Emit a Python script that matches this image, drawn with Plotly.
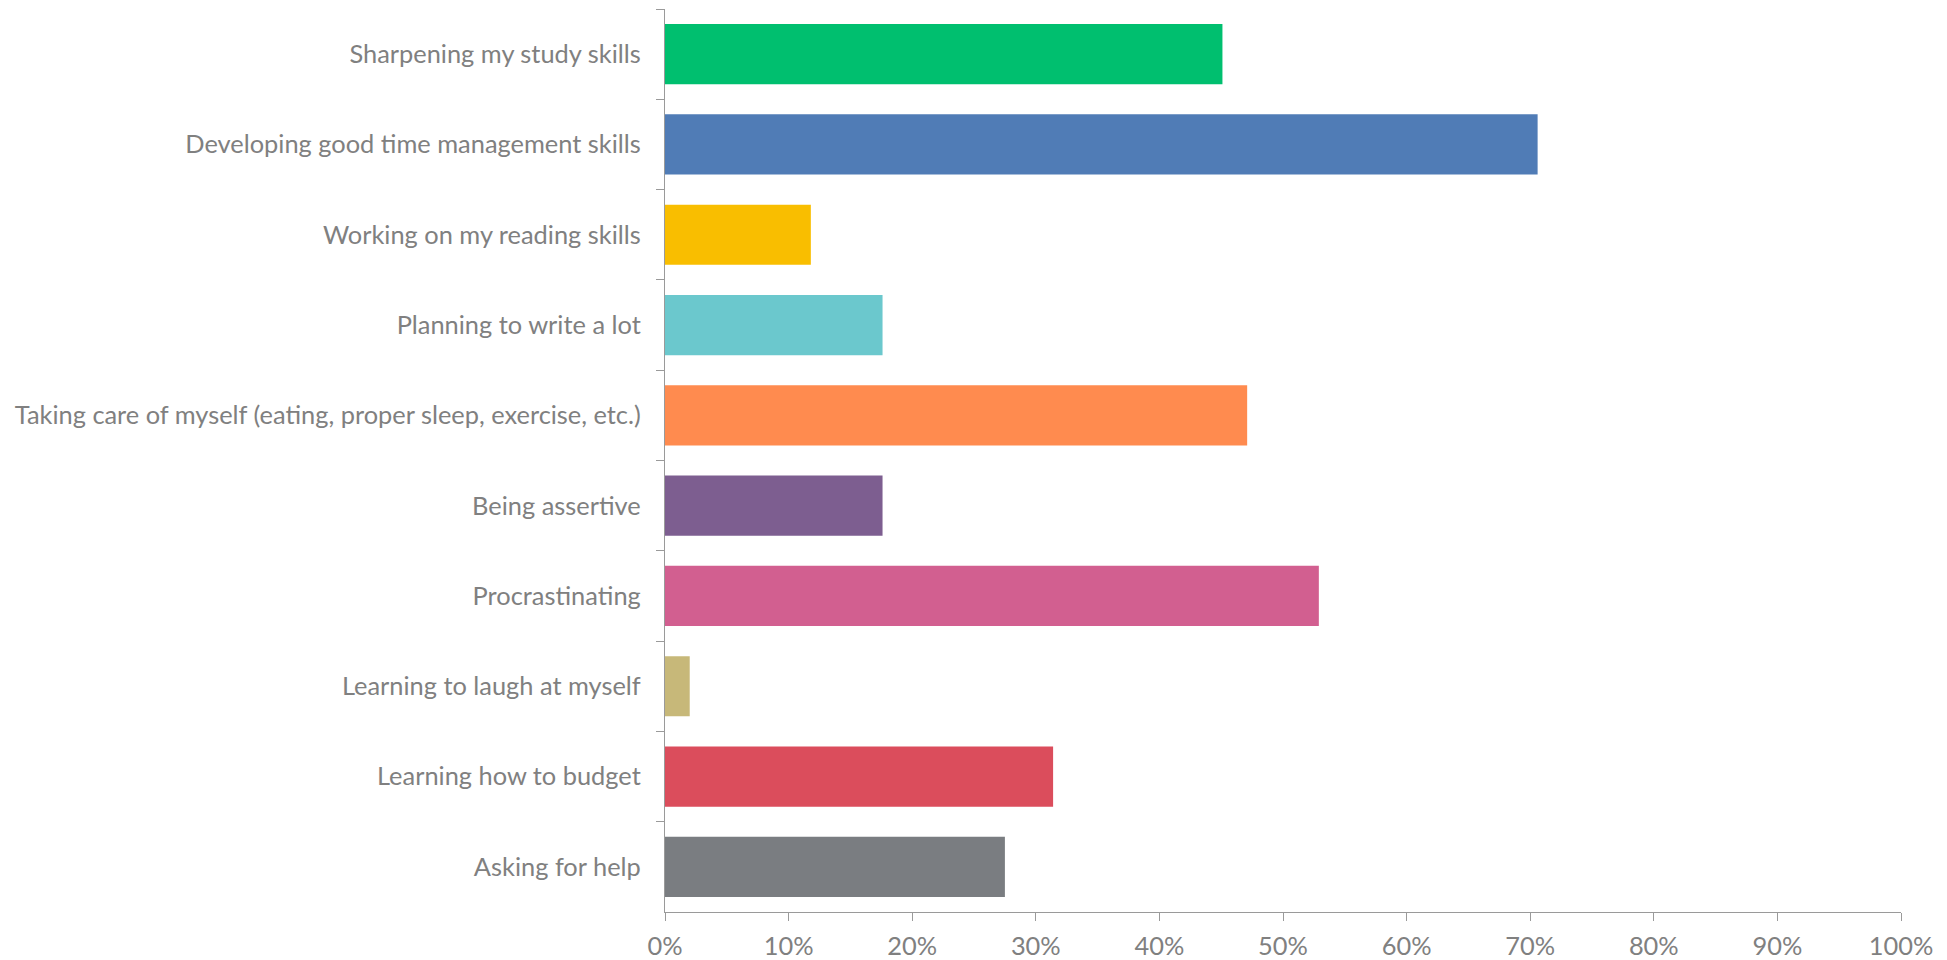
import plotly.graph_objects as go

categories = [
    "Sharpening my study skills",
    "Developing good time management skills",
    "Working on my reading skills",
    "Planning to write a lot",
    "Taking care of myself (eating, proper sleep, exercise, etc.)",
    "Being assertive",
    "Procrastinating",
    "Learning to laugh at myself",
    "Learning how to budget",
    "Asking for help",
]
values = [0.451, 0.706, 0.118, 0.176, 0.471, 0.176, 0.529, 0.020, 0.314, 0.275]
colors = ["#00BF6F", "#507CB6", "#F9BE00", "#6BC8CD", "#FF8B4F",
          "#7D5E90", "#D25F90", "#C7B879", "#DB4D5C", "#7A7D81"]
x_ticks = [i / 10 for i in range(11)]
x_tick_labels = [f"{i * 10}%" for i in range(11)]

FONT = "Lato"
TEXT = "#808080"
AXIS = "#9A9A9A"
FS = 25.4

fig = go.Figure(
    go.Bar(
        x=values,
        y=categories,
        orientation="h",
        marker=dict(color=colors, line=dict(width=0)),
        hoverinfo="x+y",
    )
)

fig.update_layout(
    width=1947,
    height=960,
    margin=dict(l=657, r=54, t=1, b=56),
    plot_bgcolor="white",
    paper_bgcolor="white",
    bargap=0.333,
    showlegend=False,
    font=dict(family=FONT, size=FS, color=TEXT),
)

fig.update_xaxes(
    range=[0, 1],
    tickvals=x_ticks,
    ticktext=x_tick_labels,
    showgrid=False,
    zeroline=False,
    showline=True,
    linecolor=AXIS,
    linewidth=1.3,
    ticks="outside",
    ticklen=8,
    tickwidth=1.3,
    tickcolor=AXIS,
    ticklabelstandoff=3,
    tickfont=dict(family=FONT, size=FS, color=TEXT),
)

fig.update_yaxes(
    categoryorder="array",
    categoryarray=categories,
    autorange="reversed",
    showgrid=False,
    zeroline=False,
    showline=True,
    linecolor=AXIS,
    linewidth=1.3,
    ticks="outside",
    tickson="boundaries",
    ticklen=8,
    tickwidth=1.3,
    tickcolor=AXIS,
    ticklabelstandoff=18,
    tickfont=dict(family=FONT, size=FS, color=TEXT),
)

fig.write_html("out.html")
